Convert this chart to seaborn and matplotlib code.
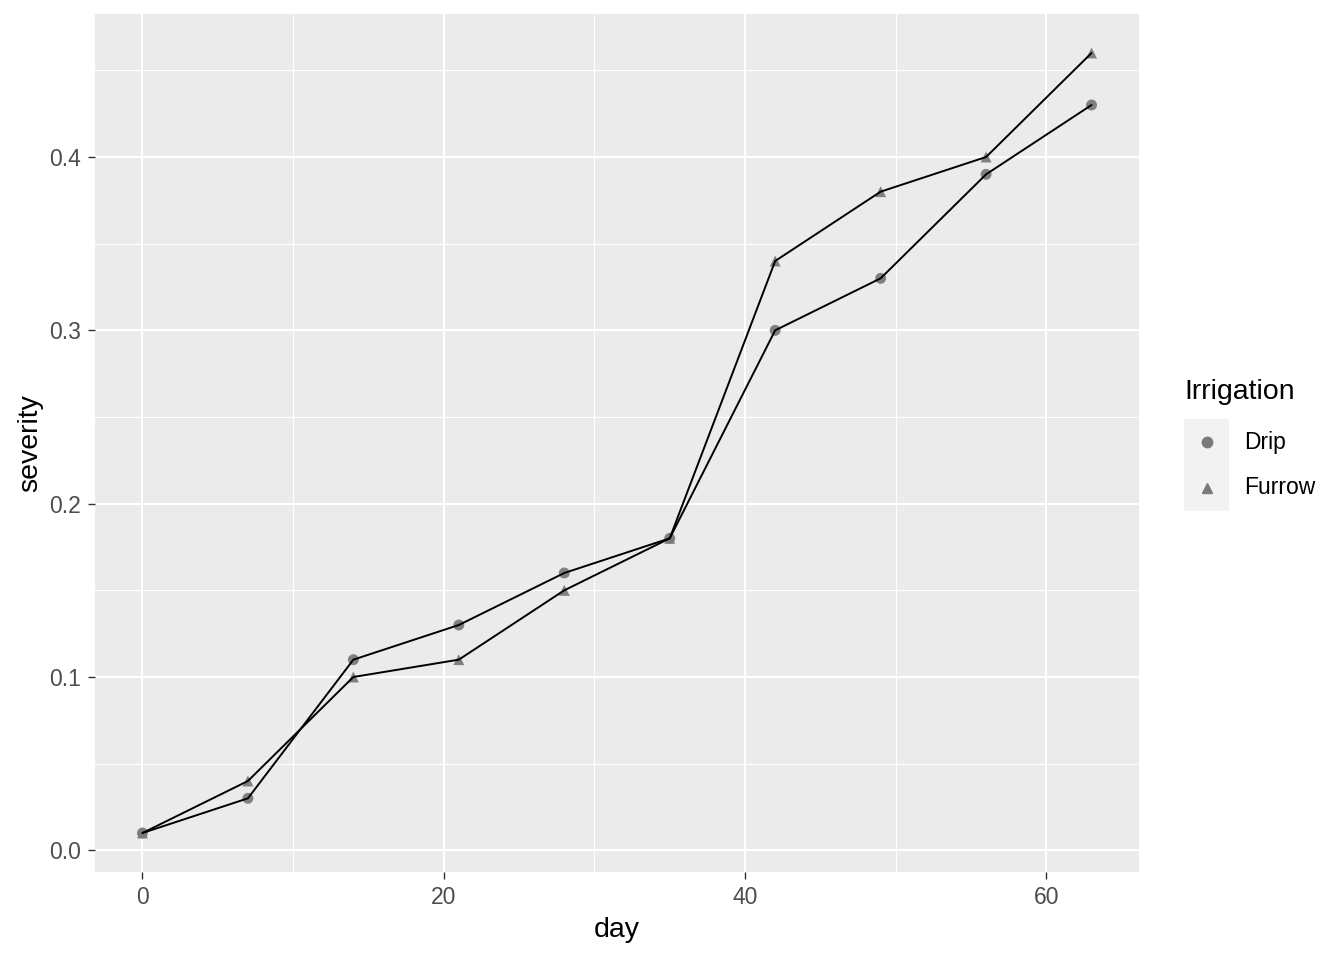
import matplotlib.pyplot as plt
import pandas as pd
import seaborn as sns
from matplotlib.patches import Rectangle

days = [0, 7, 14, 21, 28, 35, 42, 49, 56, 63]
drip = [0.01, 0.03, 0.11, 0.13, 0.16, 0.18, 0.30, 0.33, 0.39, 0.43]
furrow = [0.01, 0.04, 0.10, 0.11, 0.15, 0.18, 0.34, 0.38, 0.40, 0.46]
groups = ["Drip", "Furrow"]

df = pd.DataFrame({
    "day": days * 2,
    "severity": drip + furrow,
    "Irrigation": ["Drip"] * len(days) + ["Furrow"] * len(days),
})

sns.set_theme(style="darkgrid", rc={
    "axes.facecolor": "#EBEBEB",
    "grid.color": "white",
    "axes.edgecolor": "#EBEBEB",
    "text.color": "black",
    "axes.labelcolor": "black",
})
plt.rcParams["font.family"] = ["Liberation Sans", "DejaVu Sans"]

fig = plt.figure(figsize=(13.44, 9.6), dpi=100)
ax = fig.add_axes([95 / 1344, 88 / 960, 1044 / 1344, 858 / 960])

# ── points (under the lines) ─────────────────────────────────────────────
sns.scatterplot(
    data=df, x="day", y="severity", style="Irrigation",
    markers={"Drip": "o", "Furrow": "^"}, color="#7A7A7A",
    s=62, linewidth=0, alpha=0.95, legend=False, ax=ax, zorder=3,
)
# ── lines on top ─────────────────────────────────────────────────────────
sns.lineplot(
    data=df, x="day", y="severity", units="Irrigation", estimator=None,
    color="black", linewidth=1.4, legend=False, ax=ax, zorder=4,
)

ax.set_xlim(-3.15, 66.15)
ax.set_ylim(-0.0125, 0.4825)
ax.set_xticks([0, 20, 40, 60])
ax.set_yticks([0.0, 0.1, 0.2, 0.3, 0.4])
ax.set_yticklabels(["0.0", "0.1", "0.2", "0.3", "0.4"])
ax.set_xticks([10, 30, 50], minor=True)
ax.set_yticks([0.05, 0.15, 0.25, 0.35, 0.45], minor=True)
ax.grid(which="major", color="white", linewidth=1.5)
ax.grid(which="minor", color="white", linewidth=0.75)
ax.tick_params(which="major", length=5, width=1.0, color="#333333",
               labelsize=16.5, labelcolor="#4D4D4D", pad=5, bottom=True, left=True)
ax.tick_params(which="minor", length=0)
for sp in ax.spines.values():
    sp.set_visible(False)
ax.set_xlabel("day", fontsize=20.5, color="black")
ax.set_ylabel("severity", fontsize=20.5, color="black")
ax.xaxis.set_label_coords(0.5, (960 - 930 - 88) / 858)
ax.yaxis.set_label_coords((30 - 95) / 1044, 0.5)
ax.xaxis.label.set_va("center")
ax.yaxis.label.set_va("center")

# ── legend ───────────────────────────────────────────────────────────────
fig.text(1184 / 1344, 1 - 392 / 960, "Irrigation", fontsize=20.5,
         ha="left", va="center", color="black")
key_x, key_w, key_h = 1184, 45, 46
for i, (g, m) in enumerate(zip(groups, ["o", "^"])):
    top = 419 + i * key_h
    fig.patches.append(Rectangle((key_x / 1344, 1 - (top + key_h) / 960),
                                 key_w / 1344, key_h / 960,
                                 transform=fig.transFigure,
                                 facecolor="#F2F2F2", edgecolor="none"))
    cy = 1 - (top + key_h / 2) / 960
    fig.add_artist(plt.Line2D([(key_x + key_w / 2) / 1344], [cy],
                              marker=m, markersize=7.5, color="#7A7A7A",
                              linestyle="none", transform=fig.transFigure))
    fig.text(1244 / 1344, cy, g, fontsize=16.5, ha="left", va="center",
             color="black")

fig.savefig("out.png", dpi=100)
